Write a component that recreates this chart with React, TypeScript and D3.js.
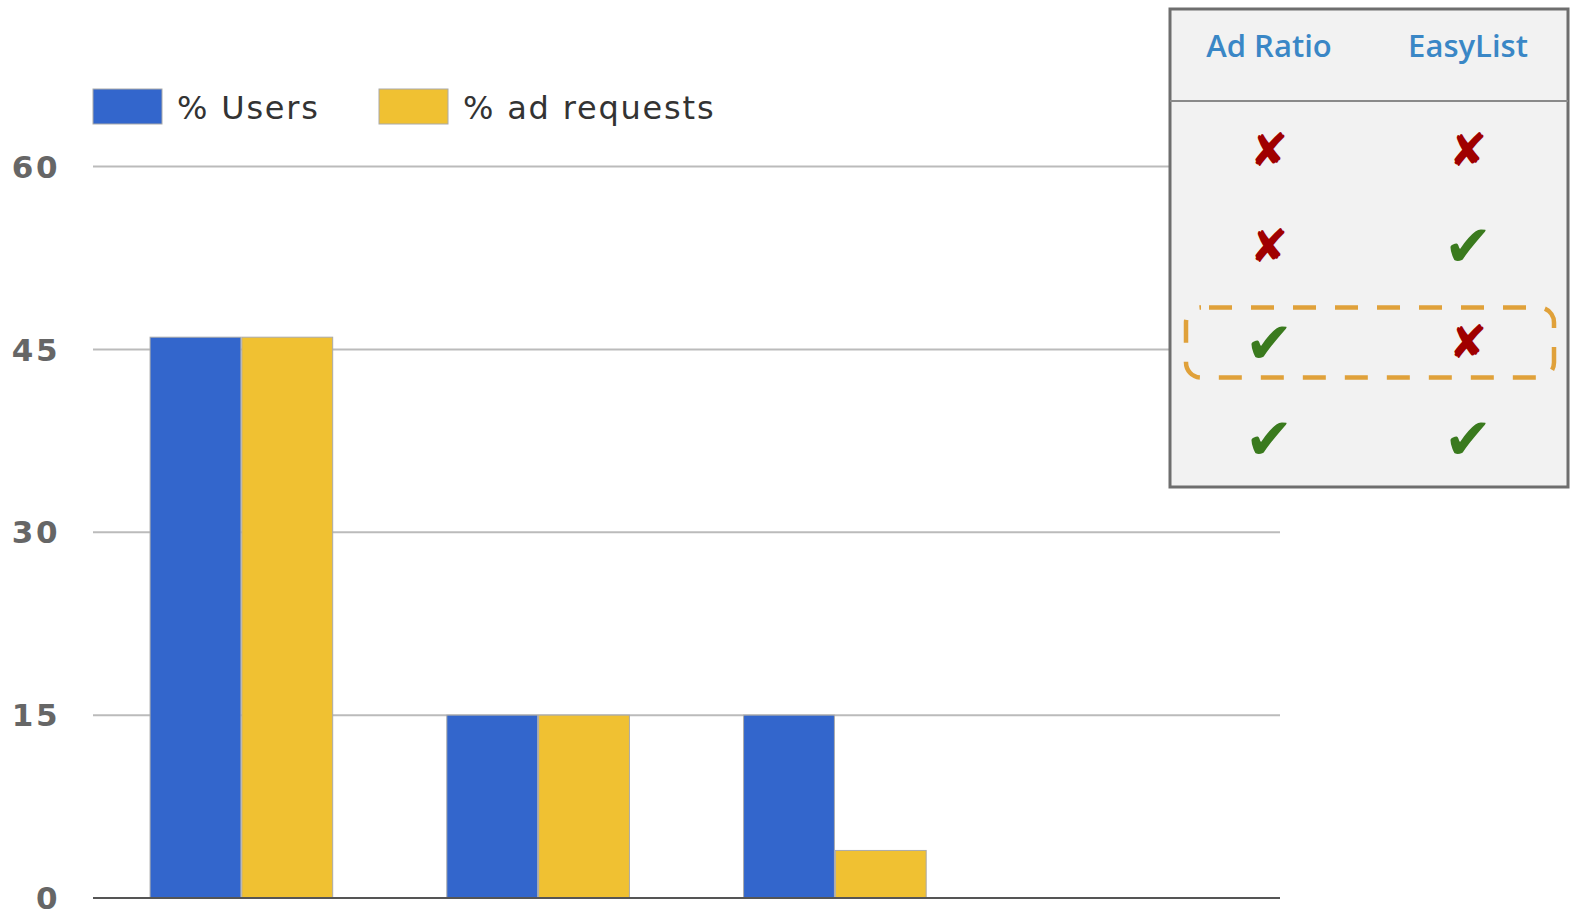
import React from "react";
import * as d3 from "d3";

const categories = ["none", "EasyList only", "Ad Ratio only", "both"];
const usersPct = [46, 15, 15, 0];
const adRequestsPct = [46, 15, 3.9, 0];
const yTicks = [0, 15, 30, 45, 60];
const seriesNames = ["% Users", "% ad requests"];
const seriesColors = ["#3366cc", "#f0c132"];
const tableHeaders = ["Ad Ratio", "EasyList"];
const adRatioCol = [false, false, true, true];
const easyListCol = [false, true, false, true];
const highlightedRow = 2;

const W = 1573;
const H = 914;
const left = 93;
const right = 1280;
const top = 166.5;
const bottom = 898;

export default function App() {
  const x = d3
    .scaleBand<string>()
    .domain(categories)
    .range([left, right])
    .paddingInner(0.3846)
    .paddingOuter(0.1923);
  const x1 = d3
    .scaleBand<number>()
    .domain([0, 1])
    .range([0, x.bandwidth()])
    .paddingInner(0.01);
  const y = d3.scaleLinear().domain([0, 60]).range([bottom, top]);
  const series = [usersPct, adRequestsPct];

  // table geometry
  const tx0 = 1170, tx1 = 1568, ty0 = 9, ty1 = 487, thead = 101;
  const colX = d3.scalePoint<number>().domain([0, 1]).range([1269, 1468]);
  const rowY = d3
    .scaleBand<number>()
    .domain(d3.range(adRatioCol.length))
    .range([thead, ty1 - 1]);
  const cols = [adRatioCol, easyListCol];

  return (
    <svg width={W} height={H} style={{ position: "absolute", left: 0, top: 0 }}>
      <rect x={0} y={0} width={W} height={H} fill="#fff" />
      {/* gridlines */}
      {yTicks.map((t) => (
        <line
          key={t}
          x1={left}
          x2={right}
          y1={y(t)}
          y2={y(t)}
          stroke={t === 0 ? "#555" : "#bbb"}
          strokeWidth={2}
        />
      ))}
      {yTicks.map((t) => (
        <text
          key={"l" + t}
          x={60}
          y={y(t)}
          dy="0.36em"
          textAnchor="end"
          fontFamily="'DejaVu Sans', Verdana, sans-serif"
          fontWeight="bold"
          fontSize={31}
          letterSpacing={2.5}
          fill="#666"
        >
          {t}
        </text>
      ))}
      {/* bars */}
      {categories.map((c, i) => (
        <g key={c} transform={`translate(${x(c)},0)`}>
          {series.map((s, k) => (
            <rect
              key={k}
              x={x1(k)}
              y={y(s[i])}
              width={x1.bandwidth()}
              height={bottom - y(s[i])}
              fill={seriesColors[k]}
              stroke={s[i] > 0 ? "#aaa" : "none"}
              strokeWidth={1}
            />
          ))}
        </g>
      ))}
      <line x1={left} x2={right} y1={bottom} y2={bottom} stroke="#555" strokeWidth={2} />
      {/* legend */}
      {seriesNames.map((n, k) => (
        <g key={n} transform={`translate(${93 + k * 286},89)`}>
          <rect x={0} y={0} width={69} height={35} fill={seriesColors[k]} stroke="#aaa" strokeWidth={1} />
          <text
            x={84}
            y={30}
            fontFamily="'DejaVu Sans', Verdana, sans-serif"
            fontSize={32}
            letterSpacing={1.8}
            fill="#333"
          >
            {n}
          </text>
        </g>
      ))}
      {/* table */}
      <rect x={tx0} y={ty0} width={tx1 - tx0} height={ty1 - ty0} fill="#f2f2f2" stroke="#6e6e6e" strokeWidth={3} />
      <line x1={tx0} x2={tx1} y1={thead} y2={thead} stroke="#8a8a8a" strokeWidth={2} />
      {tableHeaders.map((h, k) => (
        <text
          key={h}
          x={colX(k)}
          y={57}
          textAnchor="middle"
          fontFamily="'Open Sans', 'DejaVu Sans', sans-serif"
          fontWeight={600}
          fontSize={31}
          fill="#3a87c6"
        >
          {h}
        </text>
      ))}
      {cols.map((col, k) =>
        col.map((v, r) => (
          <text
            key={k + "-" + r}
            x={colX(k)}
            y={(rowY(r) as number) + rowY.bandwidth() / 2}
            dy="0.36em"
            textAnchor="middle"
            fontFamily="'DejaVu Sans', sans-serif"
            fontSize={v ? 58 : 46}
            fill={v ? "#3a7a1e" : "#a00000"}
          >
            {v ? "\u2714" : "\u2718"}
          </text>
        ))
      )}
      <rect
        x={1186}
        y={(rowY(highlightedRow) as number) + 14}
        width={368}
        height={70}
        rx={15}
        ry={15}
        fill="none"
        stroke="#e0a13a"
        strokeWidth={4.5}
        strokeDasharray="23 19"
        strokeDashoffset={-8}
      />
    </svg>
  );
}
